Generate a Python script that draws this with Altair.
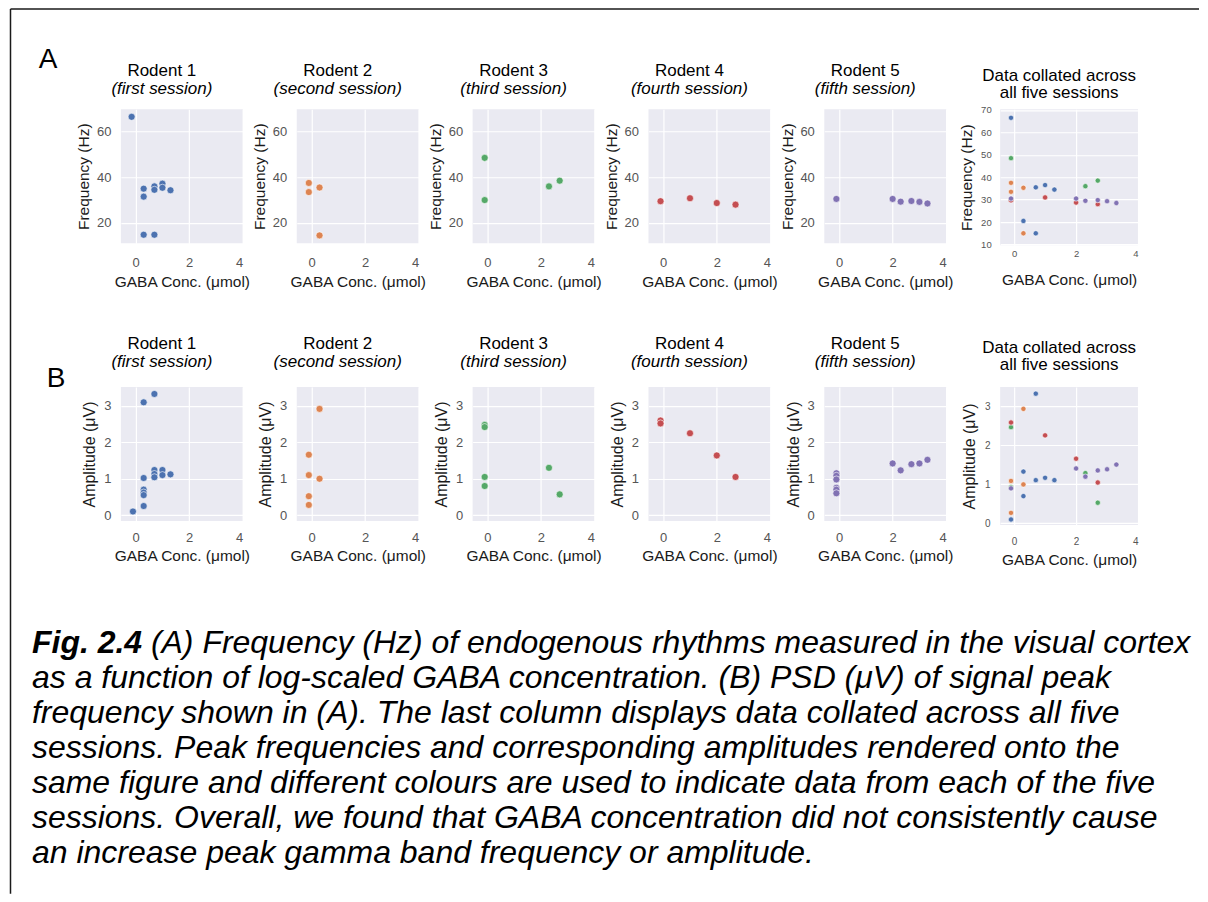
import altair as alt
import pandas as pd

FONT = "Liberation Sans"
COLORS = ["#4C72B0", "#DD8452", "#55A868", "#C44E52", "#8172B3"]
SESSIONS = ["first", "second", "third", "fourth", "fifth"]
PANEL_TITLES = ["Rodent 1", "Rodent 2", "Rodent 3", "Rodent 4", "Rodent 5"]
PANEL_SUBTITLES = ["(first session)", "(second session)", "(third session)",
                   "(fourth session)", "(fifth session)"]
COLLATED_TITLE = ["Data collated across", "all five sessions"]
X_TITLE = "GABA Conc. (μmol)"
FREQ_TITLE = "Frequency (Hz)"
AMP_TITLE = "Amplitude (μV)"
X_TICKS = [0, 2, 4]
FREQ_TICKS = [20, 40, 60]
FREQ_TICKS_C = [10, 20, 30, 40, 50, 60, 70]
AMP_TICKS = [0, 1, 2, 3]

# ---- Row A: peak frequency (Hz) vs log GABA concentration, per session ----
freq_conc_1 = [-0.15, 0.3, 0.3, 0.3, 0.7, 0.7, 0.7, 1.0, 1.0, 1.3]
freq_val_1 = [66.5, 35.0, 31.5, 14.8, 36.0, 34.5, 14.8, 37.2, 35.4, 34.3]
freq_conc_2 = [-0.1, -0.1, 0.3, 0.3]
freq_val_2 = [37.5, 33.5, 35.5, 14.5]
freq_conc_3 = [-0.1, -0.1, 2.3, 2.7]
freq_val_3 = [48.5, 30.0, 36.0, 38.5]
freq_conc_4 = [-0.1, 1.0, 2.0, 2.7]
freq_val_4 = [29.5, 30.8, 28.7, 28.0]
freq_conc_5 = [-0.1, 2.0, 2.3, 2.7, 3.0, 3.3]
freq_val_5 = [30.5, 30.5, 29.3, 29.6, 29.2, 28.5]

# collated frequency panel
cfreq_conc_1 = [-0.1, 0.3, 0.7, 0.7, 1.0, 1.3]
cfreq_val_1 = [66.5, 20.5, 15.0, 35.5, 36.5, 34.5]
cfreq_conc_2 = [-0.1, -0.1, 0.3, 0.3]
cfreq_val_2 = [37.5, 33.5, 35.3, 15.0]
cfreq_conc_3 = [-0.1, -0.1, 2.3, 2.7]
cfreq_val_3 = [48.5, 30.0, 36.0, 38.5]
cfreq_conc_4 = [-0.1, 1.0, 2.0, 2.7]
cfreq_val_4 = [29.7, 31.0, 28.7, 28.0]
cfreq_conc_5 = [-0.1, 2.0, 2.3, 2.7, 3.0, 3.3]
cfreq_val_5 = [30.5, 30.5, 29.5, 29.8, 29.3, 28.5]

# ---- Row B: amplitude (uV) per session ----
amp_conc_1 = [-0.1, 0.3, 0.7, 0.3, 0.3, 0.3, 0.3, 0.3, 0.7, 0.7, 0.7, 1.0, 1.0, 1.3]
amp_val_1 = [0.1, 3.1, 3.33, 1.02, 0.7, 0.62, 0.55, 0.25, 1.24, 1.13, 1.04, 1.24, 1.1, 1.12]
amp_conc_2 = [-0.1, -0.1, -0.1, -0.1, 0.3, 0.3]
amp_val_2 = [1.66, 1.1, 0.52, 0.28, 2.92, 1.0]
amp_conc_3 = [-0.1, -0.1, -0.1, -0.1, 2.3, 2.7]
amp_val_3 = [2.48, 2.42, 1.05, 0.8, 1.3, 0.57]
amp_conc_4 = [-0.1, -0.1, 1.0, 2.0, 2.7]
amp_val_4 = [2.6, 2.52, 2.25, 1.64, 1.05]
amp_conc_5 = [-0.1, -0.1, -0.1, -0.1, -0.1, -0.1, 2.0, 2.3, 2.7, 3.0, 3.3]
amp_val_5 = [1.15, 1.08, 0.98, 0.75, 0.7, 0.6, 1.42, 1.23, 1.4, 1.42, 1.52]

# collated amplitude panel
camp_conc_1 = [0.7, 0.3, 1.0, 0.7, 1.3, 0.3, -0.1]
camp_val_1 = [3.33, 1.33, 1.17, 1.11, 1.11, 0.7, 0.1]
camp_conc_2 = [0.3, -0.1, 0.3, -0.1]
camp_val_2 = [2.94, 1.09, 1.0, 0.27]
camp_conc_3 = [-0.1, 2.3, 2.7, -0.1]
camp_val_3 = [2.47, 1.29, 0.53, 0.93]
camp_conc_4 = [-0.1, 1.0, 2.0, 2.7]
camp_val_4 = [2.59, 2.26, 1.66, 1.05]
camp_conc_5 = [-0.1, 2.0, 2.3, 2.7, 3.0, 3.3]
camp_val_5 = [0.9, 1.41, 1.2, 1.36, 1.39, 1.51]

CAPTION_BOLD = "Fig. 2.4"
CAPTION_FIRST = "(A) Frequency (Hz) of endogenous rhythms measured in the visual cortex"
CAPTION_REST = [
    "as a function of log-scaled GABA concentration. (B) PSD (μV) of signal peak",
    "frequency shown in (A). The last column displays data collated across all five",
    "sessions. Peak frequencies and corresponding amplitudes rendered onto the",
    "same figure and different colours are used to indicate data from each of the five",
    "sessions. Overall, we found that GABA concentration did not consistently cause",
    "an increase peak gamma band frequency or amplitude.",
]

freq_sets = [(freq_conc_1, freq_val_1), (freq_conc_2, freq_val_2), (freq_conc_3, freq_val_3),
             (freq_conc_4, freq_val_4), (freq_conc_5, freq_val_5)]
amp_sets = [(amp_conc_1, amp_val_1), (amp_conc_2, amp_val_2), (amp_conc_3, amp_val_3),
            (amp_conc_4, amp_val_4), (amp_conc_5, amp_val_5)]
cfreq_sets = [(cfreq_conc_1, cfreq_val_1), (cfreq_conc_2, cfreq_val_2), (cfreq_conc_3, cfreq_val_3),
              (cfreq_conc_4, cfreq_val_4), (cfreq_conc_5, cfreq_val_5)]
camp_sets = [(camp_conc_1, camp_val_1), (camp_conc_2, camp_val_2), (camp_conc_3, camp_val_3),
             (camp_conc_4, camp_val_4), (camp_conc_5, camp_val_5)]

X_DOM = [-0.55, 4.0]
X_DOM_C = [-0.45, 4.0]
FREQ_DOM = [11.1, 69.8]
FREQ_DOM_C = [9.7, 70.3]
AMP_DOM = [-0.16, 3.52]
AMP_DOM_C = [-0.04, 3.5]

PW, PH = 122, 134
CW, CH_A, CH_B = 138, 136, 138


def collated_df(sets):
    rows = []
    for s, (xs, ys) in zip(SESSIONS, sets):
        for x, y in zip(xs, ys):
            rows.append({"conc": x, "val": y, "session": s})
    return pd.DataFrame(rows)


def points(df, color, xdom, ydom, xaxis, yaxis, size):
    return alt.Chart(df).mark_circle(size=size, opacity=1, stroke="white", strokeWidth=0.6).encode(
        x=alt.X("conc:Q", scale=alt.Scale(domain=xdom, nice=False, zero=False), axis=xaxis),
        y=alt.Y("val:Q", scale=alt.Scale(domain=ydom, nice=False, zero=False), axis=yaxis),
        color=color,
    )


def title_params(i, offset):
    return alt.TitleParams(text=PANEL_TITLES[i], subtitle=PANEL_SUBTITLES[i], font=FONT,
                           subtitleFont=FONT, fontSize=17, subtitleFontSize=17,
                           fontWeight="normal", subtitleFontStyle="italic", color="black",
                           subtitleColor="black", anchor="middle", frame="group", dx=-20,
                           offset=offset, subtitlePadding=1)


def coll_title(offset):
    return alt.TitleParams(text=COLLATED_TITLE, font=FONT, fontSize=17, lineHeight=17,
                           fontWeight="normal", color="black", anchor="middle", frame="group",
                           dx=-10, offset=offset)


deco = pd.DataFrame({"k": [0]})

panels_a = []
for i, (xs, ys) in enumerate(freq_sets):
    df = pd.DataFrame({"conc": xs, "val": ys})
    xa = alt.Axis(values=X_TICKS, title=X_TITLE, labelFontSize=13, labelPadding=13, titlePadding=5,
                  titleFontSize=15.5)
    ya = alt.Axis(values=FREQ_TICKS, title=FREQ_TITLE, labelFontSize=13, labelPadding=10,
                  titlePadding=4.5, titleFontSize=15.5)
    p = points(df, alt.value(COLORS[i]), X_DOM, FREQ_DOM, xa, ya, 50)
    panels_a.append(p.properties(width=PW, height=PH, title=title_params(i, 11)))

cdf = collated_df(cfreq_sets)
xa = alt.Axis(values=X_TICKS, title=X_TITLE, labelFontSize=9.5, labelPadding=3, titlePadding=15,
              titleFontSize=15.5)
ya = alt.Axis(values=FREQ_TICKS_C, title=FREQ_TITLE, labelFontSize=9.5, labelPadding=9,
              titlePadding=6, titleFontSize=15.5)
colored = alt.Color("session:N", scale=alt.Scale(domain=SESSIONS, range=COLORS), legend=None)
panels_a.append(points(cdf, colored, X_DOM_C, FREQ_DOM_C, xa, ya, 28)
                .properties(width=CW, height=CH_A, title=coll_title(3)))

panels_b = []
for i, (xs, ys) in enumerate(amp_sets):
    df = pd.DataFrame({"conc": xs, "val": ys})
    xa = alt.Axis(values=X_TICKS, title=X_TITLE, labelFontSize=13, labelPadding=11, titlePadding=4,
                  titleFontSize=15.5)
    ya = alt.Axis(values=AMP_TICKS, title=AMP_TITLE, labelFontSize=13, labelPadding=10,
                  titlePadding=6, titleFontSize=16)
    p = points(df, alt.value(COLORS[i]), X_DOM, AMP_DOM, xa, ya, 50)
    panels_b.append(p.properties(width=PW, height=PH, title=title_params(i, 16)))

cdf = collated_df(camp_sets)
xa = alt.Axis(values=X_TICKS, title=X_TITLE, labelFontSize=10, labelPadding=12, titlePadding=5.5,
              titleFontSize=15.5)
ya = alt.Axis(values=AMP_TICKS, title=AMP_TITLE, labelFontSize=10, labelPadding=10,
              titlePadding=7, titleFontSize=16)
panels_b.append(points(cdf, colored, X_DOM_C, AMP_DOM_C, xa, ya, 28)
                .properties(width=CW, height=CH_B, title=coll_title(13)))

# ---- decoration cell (border, panel letters, caption); sits below Rodent 1 / row B ----
left_border = alt.Chart(deco).mark_rule(color="#1a1a1a", strokeWidth=1.5).encode(
    x=alt.value(-110.5), y=alt.value(-658.25), y2=alt.value(227))
top_border = alt.Chart(deco).mark_rule(color="#1a1a1a", strokeWidth=1.5).encode(
    x=alt.value(-110.5), x2=alt.value(1079), y=alt.value(-658.25))
lab_a = alt.Chart(deco).mark_text(text="A", font=FONT, fontSize=28, align="center",
                                  baseline="middle", color="black").encode(
    x=alt.value(-73), y=alt.value(-607))
lab_b = alt.Chart(deco).mark_text(text="B", font=FONT, fontSize=28, align="center",
                                  baseline="middle", color="black").encode(
    x=alt.value(-65), y=alt.value(-288))
cap_bold = alt.Chart(deco).mark_text(text=CAPTION_BOLD, font=FONT, fontSize=32,
                                     fontWeight="bold", fontStyle="italic", align="left",
                                     baseline="alphabetic", color="black").encode(
    x=alt.value(-89), y=alt.value(-14))
cap_first = alt.Chart(deco).mark_text(font=FONT, fontSize=32, fontStyle="italic",
                                      align="left", baseline="alphabetic",
                                      color="black").encode(
    x=alt.value(30), y=alt.value(-14), text=alt.value(CAPTION_FIRST))
cap_rest = alt.Chart(deco).mark_text(font=FONT, fontSize=32, fontStyle="italic",
                                     align="left", baseline="alphabetic", lineHeight=35,
                                     color="black").encode(
    x=alt.value(-89), y=alt.value(21), text=alt.value(CAPTION_REST))
deco_cell = alt.layer(left_border, top_border, lab_a, lab_b, cap_bold, cap_first, cap_rest).properties(
    width=PW, height=1, view=alt.ViewBackground(fill="transparent", strokeWidth=0))

chart = alt.concat(*panels_a, *panels_b, deco_cell, columns=6,
                   spacing={"row": 142, "column": 54},
                   bounds="flush", align="each").properties(
    padding={"left": 1, "top": 0, "right": 0, "bottom": 0}, background="white"
).configure_view(fill="#EAEAF2", strokeWidth=0).configure_axis(
    grid=True, gridColor="white", gridWidth=1.2, domain=False, ticks=False, tickSize=0,
    labelColor="#555555", titleColor="#1a1a1a", labelFont=FONT, titleFont=FONT,
    titleFontWeight="normal"
)

chart.save("out.html", embed_options={"renderer": "svg", "actions": False})
